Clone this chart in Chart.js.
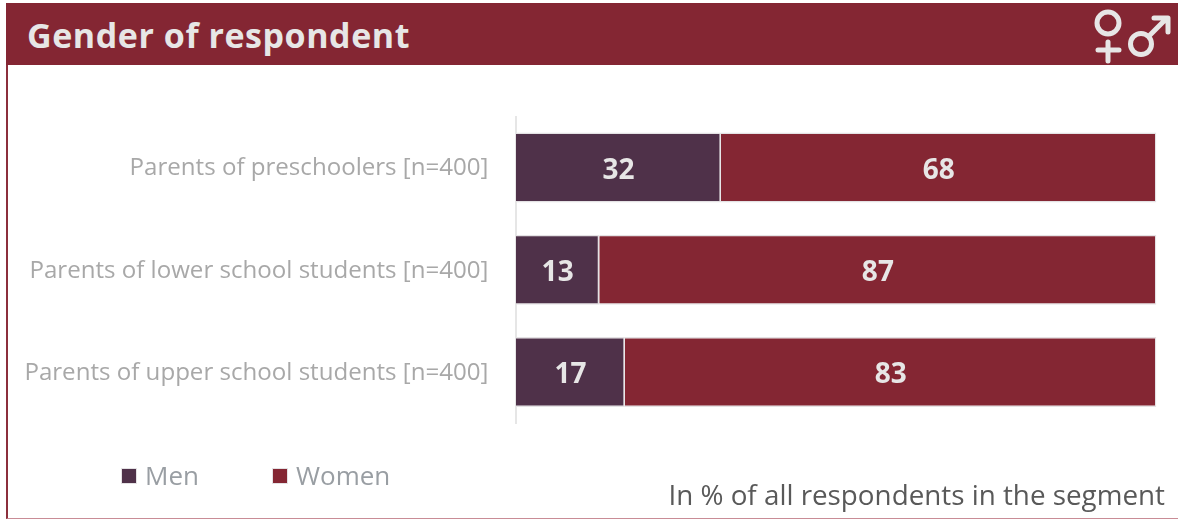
<!DOCTYPE html>
<html lang="en">
<head>
    <meta charset="UTF-8">
    <title>Gender of respondent</title>
    <script src="https://cdn.jsdelivr.net/npm/chart.js"></script>
    <style>
        body {
            margin: 0;
            width: 1178px;
            height: 519px;
            overflow: hidden;
            position: relative;
            background-color: #fff;
            font-family: 'Open Sans', sans-serif;
        }

        #frame {
            position: absolute;
            left: 6px;
            top: 3px;
            right: 0;
            bottom: 0;
            border-left: 2px solid #8c2f3c;
            border-bottom: 1px solid #c98c96;
        }

        #header {
            position: absolute;
            left: 6px;
            top: 3px;
            width: 1172px;
            height: 62px;
            background-color: #842633;
        }

        #title {
            position: absolute;
            left: 21px;
            top: 9px;
            font-size: 34px;
            line-height: 46px;
            font-weight: 700;
            letter-spacing: 0.55px;
            color: #e7e6e6;
            white-space: nowrap;
        }

        #icons {
            position: absolute;
            left: 0;
            top: 0;
        }

        #note {
            position: absolute;
            right: 13px;
            top: 475px;
            font-size: 27.8px;
            line-height: 38px;
            color: #595959;
            white-space: nowrap;
        }

        #legend {
            position: absolute;
            left: 0;
            top: 457px;
            font-size: 26px;
            line-height: 36px;
            color: #999ea3;
        }

        #legend span {
            position: absolute;
            white-space: nowrap;
        }

        #legend i {
            position: absolute;
            top: 11px;
            width: 14px;
            height: 14px;
            border: 1.5px solid #e4e2e4;
        }

        canvas {
            position: absolute;
            left: 0;
            top: 0;
        }
    </style>
</head>
<body>

    <div id="frame"></div>
    <canvas id="myChart" width="1178" height="519"></canvas>
    <div id="header"><div id="title">Gender of respondent</div></div>

    <svg id="icons" width="1178" height="70" fill="none" stroke="#e7e6e6" stroke-width="5" stroke-linecap="round" stroke-linejoin="round">
        <circle cx="1108" cy="23" r="11"/>
        <path d="M1108 42V61M1098 50H1119"/>
        <circle cx="1141" cy="44" r="10.5"/>
        <path d="M1150 35L1166 19M1154 18H1168V32"/>
    </svg>

    <div id="legend"></div>
    <div id="note">In % of all respondents in the segment</div>

    <script>
        const categories = [
            'Parents of preschoolers [n=400]',
            'Parents of lower school students [n=400]',
            'Parents of upper school students [n=400]'
        ];
        const men = [32, 13, 17];
        const women = [68, 87, 83];

        // writes each value in the middle of its bar segment
        const valueLabels = {
            id: 'valueLabels',
            afterDatasetsDraw(chart) {
                const ctx = chart.ctx;
                ctx.save();
                ctx.font = 'bold 28px "Open Sans"';
                ctx.fillStyle = '#e7e6e6';
                ctx.textAlign = 'center';
                ctx.textBaseline = 'middle';
                chart.data.datasets.forEach((dataset, i) => {
                    chart.getDatasetMeta(i).data.forEach((bar, j) => {
                        const pos = bar.getCenterPoint();
                        ctx.fillText(dataset.data[j], pos.x, pos.y + 3);
                    });
                });
                ctx.restore();
            }
        };

        // the category labels sit a little below the bar centres
        const tickNudge = {
            id: 'tickNudge',
            beforeDraw(chart) {
                chart.scales.y.getLabelItems().forEach(item => {
                    item.textOffset += 1;
                });
            }
        };

        const chart = new Chart(document.getElementById('myChart'), {
            type: 'bar',
            data: {
                labels: categories,
                datasets: [
                    {
                        label: 'Men',
                        data: men,
                        backgroundColor: '#4f3149',
                        borderColor: '#e4e2e4',
                        borderWidth: 1.5,
                        barPercentage: 0.685,
                        categoryPercentage: 1
                    },
                    {
                        label: 'Women',
                        data: women,
                        backgroundColor: '#842633',
                        borderColor: '#e4e2e4',
                        borderWidth: 1.5,
                        barPercentage: 0.685,
                        categoryPercentage: 1
                    }
                ]
            },
            options: {
                indexAxis: 'y',
                responsive: false,
                animation: false,
                events: [],
                layout: {
                    padding: { top: 116.5, right: 21.5, bottom: 96, left: 0 }
                },
                scales: {
                    x: {
                        stacked: true,
                        display: false,
                        min: 0,
                        max: 100
                    },
                    y: {
                        stacked: true,
                        afterFit(scale) {
                            scale.width = 516;
                        },
                        grid: { display: false, drawTicks: false },
                        border: { display: true, color: '#e6e6e6', width: 2 },
                        ticks: {
                            padding: 27.5,
                            color: '#a8a8a8',
                            font: { family: 'Open Sans', size: 24.1 }
                        }
                    }
                },
                plugins: {
                    tooltip: { enabled: false },
                    legend: { display: false }
                }
            },
            plugins: [valueLabels, tickNudge]
        });

        // legend entries come from the datasets, placed below the category labels
        const legendLefts = [121, 272];
        chart.data.datasets.forEach((dataset, i) => {
            const entry = document.createElement('span');
            entry.style.left = legendLefts[i] + 'px';
            entry.style.paddingLeft = '24px';
            entry.textContent = dataset.label;

            const box = document.createElement('i');
            box.style.left = '0';
            box.style.backgroundColor = dataset.backgroundColor;
            entry.appendChild(box);

            document.getElementById('legend').appendChild(entry);
        });
    </script>
</body>
</html>
